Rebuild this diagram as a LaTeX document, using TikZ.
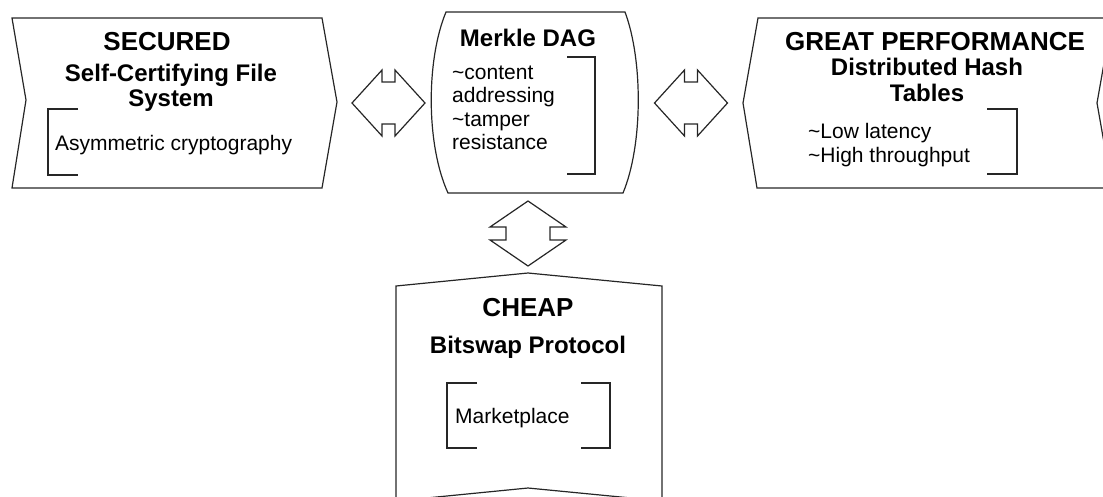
\documentclass[tikz,border=0pt]{standalone}
\usepackage{fontspec}
\setmainfont{Liberation Sans}
\tikzset{
	outline/.style={draw=black!85, line width=1.2pt, line join=miter},
	titletext/.style={inner sep=0pt, font=\bfseries\fontsize{26}{28}\selectfont},
	subtext/.style={inner sep=0pt, align=center, font=\bfseries\fontsize{24}{25.5}\selectfont},
	bodytext/.style={inner sep=0pt, align=left, font=\fontsize{21}{23.5}\selectfont},
}
\begin{document}
\begin{tikzpicture}[x=1pt, y=-1pt]
	\useasboundingbox (0,0) rectangle (1103,496);
	\clip (0,0) rectangle (1103,496);
	% Boxes
	\draw[outline] (12,18) -- (322,18) -- (337,102) -- (322,188) -- (12,188) -- (26,100) -- cycle;
	\draw[outline] (446,12) -- (625,12) .. controls (643,60) and (643,145) .. (623,193)
		-- (448,193) .. controls (426,145) and (426,60) .. (446,12) -- cycle;
	\draw[outline] (758,18) -- (1112,18) -- (1097,103) -- (1112,188) -- (757,188) -- (743,103) -- cycle;
	\draw[outline] (396,501) -- (396,286) -- (528,273) -- (662,286) -- (662,501) -- (528,488) -- cycle;
	% Double arrows
	\foreach \cx in {388.5, 691}
		\draw[outline, shift={(\cx,103)}] (-36.5,0) -- (-6.5,-33) -- (-6.5,-21) -- (6.5,-21) -- (6.5,-33)
			-- (36.5,0) -- (6.5,33) -- (6.5,21) -- (-6.5,21) -- (-6.5,33) -- cycle;
	\draw[outline, shift={(528,233.5)}] (0,-32.5) -- (38,-6.5) -- (22,-6.5) -- (22,6.5) -- (38,6.5)
		-- (0,32.5) -- (-38,6.5) -- (-22,6.5) -- (-22,-6.5) -- (-38,-6.5) -- cycle;
	% Brackets
	\draw[outline] (78,109) -- (48,109) -- (48,175) -- (78,175);
	\draw[outline] (567,57) -- (595,57) -- (595,174) -- (567,174);
	\draw[outline] (987,109) -- (1017,109) -- (1017,174) -- (987,174);
	\draw[outline] (477,383) -- (447,383) -- (447,448) -- (477,448);
	\draw[outline] (581,383) -- (610,383) -- (610,448) -- (581,448);
	% Texts
	\node[titletext] (secured) at (167,42) {SECURED};
	\node[subtext] (sfs) at (171,88) {Self-Certifying File\\System};
	\node[bodytext, anchor=west] (asym) at (55,145) {Asymmetric cryptography};
	\node[subtext] (merkle) at (528,38) {Merkle DAG};
	\node[bodytext, anchor=west] (merklelist) at (452,108)
		{\textasciitilde content\\addressing\\\textasciitilde tamper\\resistance};
	\node[titletext] (perf) at (935,42) {GREAT PERFORMANCE};
	\node[subtext] (dht) at (927,80) {Distributed Hash\\Tables};
	\node[bodytext, anchor=west] (perflist) at (808,145)
		{\textasciitilde Low latency\\\textasciitilde High throughput};
	\node[titletext] (cheap) at (528,308) {CHEAP};
	\node[subtext] (bitswap) at (528,347) {Bitswap Protocol};
	\node[bodytext, anchor=west] (market) at (455,418) {Marketplace};
\end{tikzpicture}
\end{document}
